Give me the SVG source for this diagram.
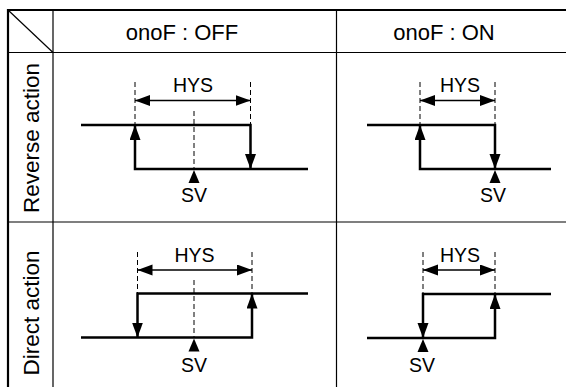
<svg xmlns="http://www.w3.org/2000/svg" width="566" height="387" viewBox="0 0 566 387">
<style>
.grid{stroke:#000;stroke-width:1.2;fill:none}
.border{stroke:#000;stroke-width:2.2;fill:none}
.sig{stroke:#000;stroke-width:2.5;fill:none;marker-end:url(#ah)}
.dash{stroke:#000;stroke-width:1;stroke-dasharray:5,3;fill:none}
.hys{stroke:#000;stroke-width:1.5;fill:none;marker-start:url(#hh);marker-end:url(#hh)}
.sv{fill:#000}
text{font-family:"Liberation Sans",Arial,sans-serif;fill:#000}
.hd{font-size:22px;text-anchor:middle}
.rot{font-size:22.5px;text-anchor:middle}
.lb{font-size:19.5px;text-anchor:middle}
</style>
<defs>
<marker id="ah" markerUnits="userSpaceOnUse" markerWidth="16" markerHeight="12" refX="15" refY="5.5" orient="auto"><path d="M0,0 L15,5.5 L0,11 z" fill="#000"/></marker>
<marker id="hh" markerUnits="userSpaceOnUse" markerWidth="16" markerHeight="12" refX="15" refY="5.5" orient="auto-start-reverse"><path d="M0,0 L15,5.5 L0,11 z" fill="#000"/></marker>
</defs>
<g id="table">
<line class="grid" x1="8" y1="52.5" x2="566" y2="52.5"/>
<line class="grid" x1="8" y1="222" x2="566" y2="222"/>
<line class="grid" x1="53" y1="10" x2="53" y2="387"/>
<line class="grid" x1="336.5" y1="10" x2="336.5" y2="387"/>
<line class="grid" x1="8" y1="10" x2="53" y2="52.5"/>
<path class="border" d="M8,387 V10 H566"/>
<text class="hd" x="182" y="40">onoF : OFF</text>
<text class="hd" x="444" y="40">onoF : ON</text>
<text class="rot" transform="translate(38.5,138) rotate(-90)">Reverse action</text>
<text class="rot" transform="translate(38.5,313) rotate(-90)">Direct action</text>
</g>
<g id="rev-off">
<line class="dash" x1="135" y1="82" x2="135" y2="125"/>
<line class="dash" x1="250.5" y1="82" x2="250.5" y2="125"/>
<line class="dash" x1="194" y1="111" x2="194" y2="169"/>
<line class="hys" x1="135" y1="100.5" x2="250.5" y2="100.5"/>
<text class="lb" x="193" y="92">HYS</text>
<path class="sig" d="M81,125 H250.5 V169"/>
<path class="sig" d="M308,169 H135 V125"/>
<path class="sv" d="M194,170 L199.5,183 L188.5,183 z"/>
<text class="lb" x="194" y="202">SV</text>
</g>
<g id="rev-on">
<line class="dash" x1="420" y1="82" x2="420" y2="125"/>
<line class="dash" x1="495" y1="82" x2="495" y2="125"/>
<line class="hys" x1="420" y1="100.5" x2="495" y2="100.5"/>
<text class="lb" x="460" y="92">HYS</text>
<path class="sig" d="M367,125 H495 V169"/>
<path class="sig" d="M551,169 H420 V125"/>
<path class="sv" d="M495,170 L500.5,183 L489.5,183 z"/>
<text class="lb" x="493" y="202">SV</text>
</g>
<g id="dir-off">
<line class="dash" x1="137.5" y1="252" x2="137.5" y2="293.5"/>
<line class="dash" x1="252" y1="252" x2="252" y2="293.5"/>
<line class="dash" x1="194" y1="280" x2="194" y2="337.5"/>
<line class="hys" x1="137.5" y1="270" x2="252" y2="270"/>
<text class="lb" x="194.5" y="261.5">HYS</text>
<path class="sig" d="M308,293.5 H137.5 V337.5"/>
<path class="sig" d="M81,337.5 H252 V293.5"/>
<path class="sv" d="M194,338.5 L199.5,351.5 L188.5,351.5 z"/>
<text class="lb" x="194" y="372">SV</text>
</g>
<g id="dir-on">
<line class="dash" x1="423" y1="252" x2="423" y2="294"/>
<line class="dash" x1="495" y1="252" x2="495" y2="294"/>
<line class="hys" x1="423" y1="270" x2="495" y2="270"/>
<text class="lb" x="460" y="261.5">HYS</text>
<path class="sig" d="M551,294 H423 V338"/>
<path class="sig" d="M367,338 H495 V294"/>
<path class="sv" d="M423,339 L428.5,352 L417.5,352 z"/>
<text class="lb" x="422" y="372">SV</text>
</g>
</svg>
